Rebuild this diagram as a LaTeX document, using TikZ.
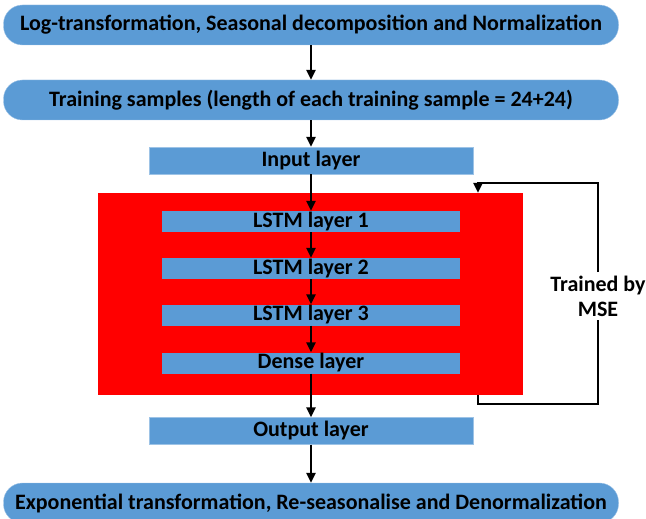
\documentclass[tikz,border=0pt]{standalone}
\usepackage{fontspec}
\setmainfont{Carlito}
\usetikzlibrary{arrows.meta,positioning}
\definecolor{layerblue}{HTML}{5B9BD5}
\begin{document}
\begin{tikzpicture}[x=1pt,y=-1pt,font=\fontsize{22}{25}\selectfont\bfseries,>={Triangle[length=10pt,width=9pt]},
  stage/.style={fill=layerblue,draw=layerblue!60!white,rounded corners=19pt,minimum width=615pt,minimum height=40pt,inner sep=0pt},
  layer/.style={fill=layerblue,draw=layerblue!60!white,minimum width=324pt,minimum height=27pt,inner sep=0pt},
  lstm/.style={fill=layerblue,minimum width=298pt,minimum height=21pt,inner sep=0pt},
  flow/.style={line width=2.6pt,->}]
\useasboundingbox (0,0) rectangle (646,519);
\node[stage] (prep) at (311,25) {Log-transformation, Seasonal decomposition and Normalization};
\node[stage] (samples) at (311,100) {Training samples (length of each training sample = 24+24)};
\node[layer] (input) at (311,160.5) {Input layer};
\node[fill=red,minimum width=425pt,minimum height=202pt,inner sep=0pt] (net) at (310.5,294) {};
\node[lstm] (l1) at (311,221.5) {LSTM layer 1};
\node[lstm] (l2) at (311,268.5) {LSTM layer 2};
\node[lstm] (l3) at (311,315) {LSTM layer 3};
\node[lstm] (dense) at (311,363) {Dense layer};
\node[layer] (output) at (311,431) {Output layer};
\node[stage] (post) at (311,503) {Exponential transformation, Re-seasonalise and Denormalization};
\node[align=center] (mse) at (598,296) {Trained by\\MSE};
\coordinate (lb) at (478,404);
\coordinate (lt) at (478,183);
% main flow
\draw[flow] (prep) -- (samples);
\draw[flow] (samples) -- (input);
\draw[flow] (input) -- (l1);
\draw[flow] (l1) -- (l2);
\draw[flow] (l2) -- (l3);
\draw[flow] (l3) -- (dense);
\draw[flow] (dense) -- (output);
\draw[flow] (output) -- (post);
% training loop
\draw[line width=2.6pt] (net.south -| lb) -- (lb) -| (mse.south);
\draw[flow] (mse.north) |- (lt) -- (net.north -| lt);
\end{tikzpicture}
\end{document}
